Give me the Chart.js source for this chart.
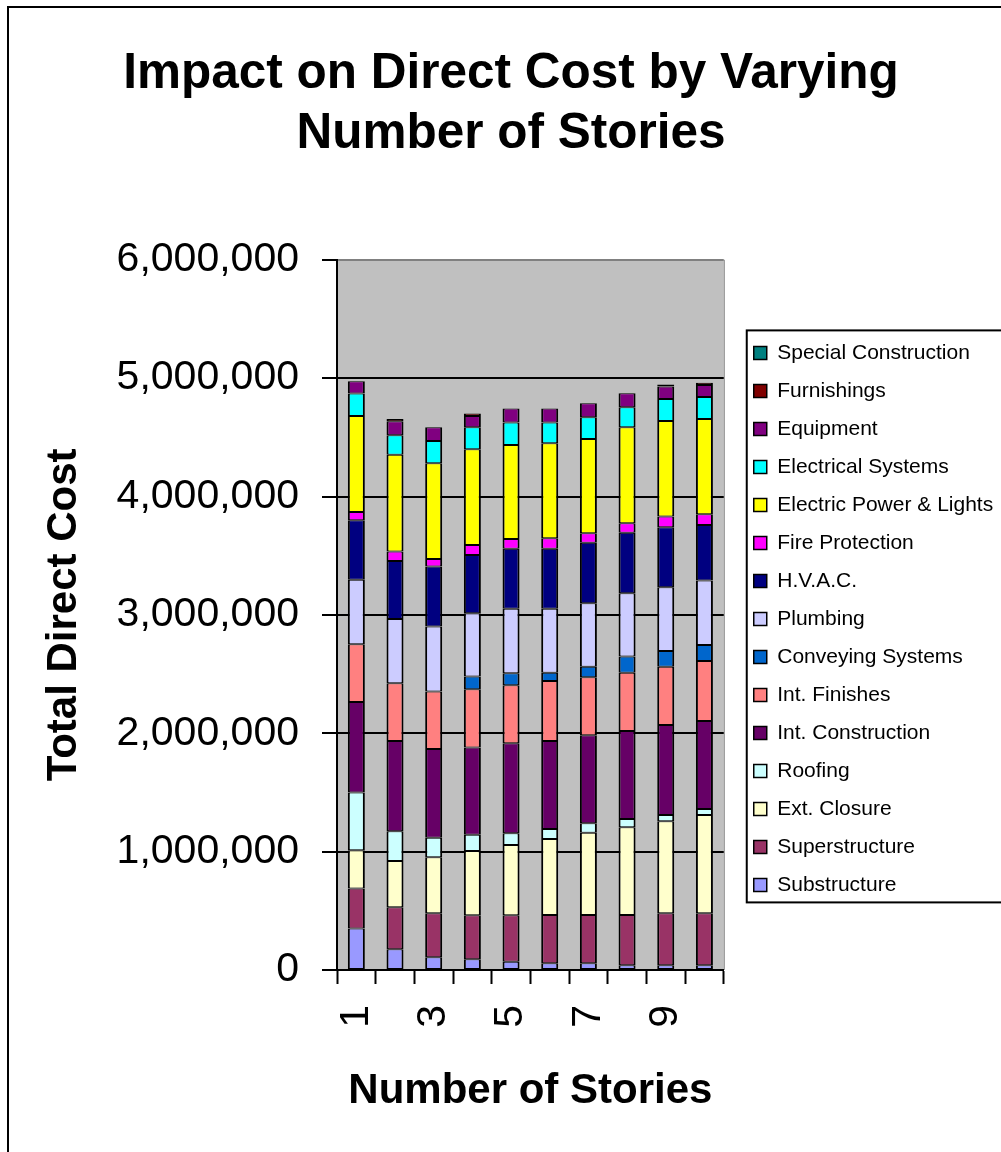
<!DOCTYPE html>
<html>
<head>
<meta charset="utf-8">
<script src="https://cdn.jsdelivr.net/npm/chart.js@4"></script>
<style>
html, body { margin: 0; padding: 0; background: #fff; }
</style>
</head>
<body>
<canvas id="grafikon" width="1001" height="1152"></canvas>
<script>
const brojSpratova = ["1", "2", "3", "4", "5", "6", "7", "8", "9", "10"];

const substructure = [350000, 175000, 107000, 90000, 70000, 56000, 56000, 40000, 40000, 40000];
const superstructure = [338000, 355000, 372000, 372000, 392000, 409000, 409000, 425000, 439000, 439000];
const extClosure = [324000, 391000, 473000, 544000, 594000, 642000, 695000, 741000, 778000, 831000];
const roofing = [487000, 251000, 166000, 137000, 99000, 84000, 80000, 70000, 53000, 51000];
const intConstruction = [766000, 763000, 750000, 737000, 761000, 744000, 743000, 744000, 760000, 743000];
const intFinishes = [487000, 488000, 484000, 492000, 490000, 507000, 490000, 492000, 493000, 507000];
const conveying = [0, 0, 0, 107000, 101000, 70000, 90000, 136000, 133000, 135000];
const plumbing = [544000, 543000, 549000, 535000, 544000, 539000, 536000, 535000, 538000, 544000];
const hvac = [504000, 490000, 507000, 493000, 507000, 507000, 511000, 512000, 507000, 470000];
const fireProtection = [70000, 79000, 65000, 84000, 84000, 90000, 80000, 80000, 90000, 91000];
const electricPower = [811000, 817000, 809000, 809000, 794000, 803000, 797000, 811000, 808000, 805000];
const electricalSystems = [190000, 165000, 188000, 186000, 189000, 174000, 183000, 169000, 186000, 185000];
const equipment = [102000, 119000, 116000, 95000, 118000, 118000, 119000, 118000, 104000, 101000];
const furnishings = [0, 20000, 0, 20000, 0, 0, 0, 0, 17000, 19000];
const specialConstruction = [0, 0, 0, 0, 0, 0, 0, 0, 0, 0];

const yTickovi = [0, 1000000, 2000000, 3000000, 4000000, 5000000, 6000000];

const serije = [
    { naziv: "Substructure", podaci: substructure, boja: "#9999FF" },
    { naziv: "Superstructure", podaci: superstructure, boja: "#993366" },
    { naziv: "Ext. Closure", podaci: extClosure, boja: "#FFFFCC" },
    { naziv: "Roofing", podaci: roofing, boja: "#CCFFFF" },
    { naziv: "Int. Construction", podaci: intConstruction, boja: "#660066" },
    { naziv: "Int. Finishes", podaci: intFinishes, boja: "#FF8080" },
    { naziv: "Conveying Systems", podaci: conveying, boja: "#0066CC" },
    { naziv: "Plumbing", podaci: plumbing, boja: "#CCCCFF" },
    { naziv: "H.V.A.C.", podaci: hvac, boja: "#000080" },
    { naziv: "Fire Protection", podaci: fireProtection, boja: "#FF00FF" },
    { naziv: "Electric Power & Lights", podaci: electricPower, boja: "#FFFF00" },
    { naziv: "Electrical Systems", podaci: electricalSystems, boja: "#00FFFF" },
    { naziv: "Equipment", podaci: equipment, boja: "#800080" },
    { naziv: "Furnishings", podaci: furnishings, boja: "#800000" },
    { naziv: "Special Construction", podaci: specialConstruction, boja: "#008080" }
];

const FONT = "'Liberation Sans', Arial, sans-serif";

// pomjeri legendu i naslov kao u Excelu
const raspored = {
    id: "raspored",
    afterLayout(chart) {
        const leg = chart.legend;
        leg.left += 13;
        leg.right = chart.width + 10;
        leg.top += 4; leg.bottom += 4;
        const t = chart.titleBlock;
        const pola = (t.right - t.left) / 2;
        t.left = 511 - pola;
        t.right = 511 + pola;
    }
};

// siva pozadina plota i okvir oko cijele slike
const pozadina = {
    id: "pozadina",
    beforeDraw(chart) {
        const { ctx, chartArea } = chart;
        ctx.save();
        ctx.fillStyle = "#ffffff";
        ctx.fillRect(0, 0, chart.width, chart.height);
        ctx.fillStyle = "#C0C0C0";
        ctx.fillRect(chartArea.left, chartArea.top, chartArea.right - chartArea.left, chartArea.bottom - chartArea.top);
        ctx.strokeStyle = "#808080";
        ctx.lineWidth = 1;
        ctx.beginPath();
        ctx.moveTo(chartArea.right + 0.5, chartArea.top);
        ctx.lineTo(chartArea.right + 0.5, chartArea.bottom);
        ctx.stroke();
        ctx.strokeStyle = "#000";
        ctx.lineWidth = 2;
        ctx.strokeRect(8, 7, chart.width + 20, chart.height + 20);
        ctx.restore();
    }
};

// okvir oko legende
const okvirLegende = {
    id: "okvirLegende",
    afterDraw(chart) {
        const kutije = chart.legend.legendHitBoxes;
        if (!kutije || !kutije.length) return;
        const lijevo = Math.min(...kutije.map(k => k.left));
        const vrh = Math.min(...kutije.map(k => k.top));
        const dno = Math.max(...kutije.map(k => k.top + k.height));
        const ctx = chart.ctx;
        ctx.save();
        ctx.strokeStyle = "#000";
        ctx.lineWidth = 2;
        ctx.strokeRect(lijevo - 7, vrh - 12, chart.width, dno - vrh + 19);
        ctx.restore();
    }
};

new Chart(document.getElementById("grafikon").getContext("2d"), {
    type: "bar",
    data: {
        labels: brojSpratova,
        datasets: serije.map(s => ({
            label: s.naziv,
            data: s.podaci,
            backgroundColor: s.boja,
            borderColor: "#000",
            borderWidth: { top: 1, bottom: 1, left: 2, right: 2 },
            borderSkipped: false,
            barPercentage: 0.44,
            categoryPercentage: 1
        }))
    },
    options: {
        responsive: false,
        animation: false,
        layout: { padding: { left: 0, right: 36, top: 0, bottom: 0 } },
        plugins: {
            title: {
                display: true,
                text: ["Impact on Direct Cost by Varying", "Number of Stories"],
                color: "#000",
                font: { family: FONT, size: 49.5, weight: "bold", lineHeight: 1.2 },
                padding: { top: 45, bottom: 96 }
            },
            legend: {
                position: "right",
                fullSize: false,
                reverse: true,
                labels: {
                    color: "#000",
                    font: { family: FONT, size: 21 },
                    boxWidth: 13,
                    boxHeight: 13,
                    padding: 17
                }
            },
            tooltip: { enabled: false }
        },
        scales: {
            x: {
                stacked: true,
                offset: true,
                grid: {
                    offset: true,
                    drawOnChartArea: false,
                    drawTicks: true,
                    tickLength: 14,
                    tickWidth: 2,
                    tickColor: "#000"
                },
                border: { color: "#000", width: 2 },
                ticks: {
                    autoSkip: false,
                    minRotation: 90,
                    maxRotation: 90,
                    padding: 21,
                    color: "#000",
                    font: { family: FONT, size: 41 },
                    callback: (v, i) => i % 2 === 0 ? brojSpratova[i] : ""
                },
                title: {
                    display: true,
                    text: "Number of Stories",
                    color: "#000",
                    font: { family: FONT, size: 42, weight: "bold" },
                    padding: { top: 0, bottom: 35 }
                },
                afterFit: scale => { scale.height = 182; }
            },
            y: {
                stacked: true,
                min: 0,
                max: 6000000,
                afterBuildTicks: scale => { scale.ticks = yTickovi.map(v => ({ value: v })); },
                grid: {
                    color: ctx => ctx.tick && ctx.tick.value === 6000000 ? "#808080" : "#000",
                    tickColor: "#000",
                    tickLength: 15,
                    lineWidth: 2
                },
                border: { color: "#000", width: 2 },
                ticks: {
                    padding: 23,
                    color: "#000",
                    font: { family: FONT, size: 41 },
                    callback: v => v.toLocaleString("en-US")
                },
                title: {
                    display: true,
                    text: "Total Direct Cost",
                    color: "#000",
                    font: { family: FONT, size: 42, weight: "bold" },
                    padding: { top: 39, bottom: 0 }
                },
                afterFit: scale => { scale.width = 337; }
            }
        }
    },
    plugins: [raspored, pozadina, okvirLegende]
});
</script>
</body>
</html>
